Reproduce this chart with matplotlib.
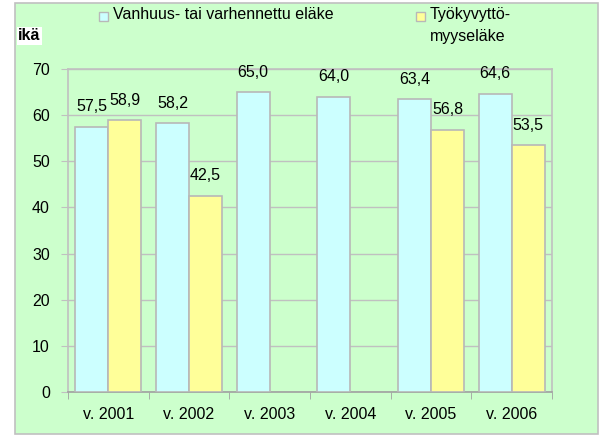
import numpy as np
import matplotlib
matplotlib.use("Agg")
import matplotlib.pyplot as plt
from matplotlib.patches import Rectangle

# data
years = ["v. 2001", "v. 2002", "v. 2003", "v. 2004", "v. 2005", "v. 2006"]
vanhuus = [57.5, 58.2, 65.0, 64.0, 63.4, 64.6]
tyokyvytto = [58.9, 42.5, None, None, 56.8, 53.5]
series_names = ["Vanhuus- tai varhennettu eläke", "Työkyvyttö-\nmyyseläke"]
y_ticks = [0, 10, 20, 30, 40, 50, 60, 70]

GREEN = "#CCFFCC"
BLUE = "#CCFFFF"
YELLOW = "#FFFF99"
GREY = "#B8B8B8"
FS = 11.5

plt.rcParams["font.family"] = ["Liberation Sans", "DejaVu Sans"]
plt.rcParams["font.size"] = FS

W, H = 602, 436
fig = plt.figure(figsize=(W / 100, H / 100), dpi=100, facecolor="white")

# green chart panel
fig.patches.append(Rectangle((15 / W, 1 - 434 / H), (598 - 15) / W, (434 - 3) / H,
                             transform=fig.transFigure, facecolor=GREEN,
                             edgecolor="#C0C0C0", linewidth=1.2, zorder=0))

ax = fig.add_axes([68 / W, 1 - 392 / H, (552 - 68) / W, (392 - 69) / H])
ax.set_zorder(2)
ax.set_facecolor(GREEN)

x = np.arange(len(years))
bw = 0.41
v2 = np.array([np.nan if v is None else v for v in tyokyvytto], dtype=float)

ax.bar(x - bw / 2, vanhuus, bw, color=BLUE, edgecolor=GREY, linewidth=1.2, zorder=3)
ax.bar(x + bw / 2, v2, bw, color=YELLOW, edgecolor=GREY, linewidth=1.2, zorder=3)

for xi, v in zip(x, vanhuus):
    ax.annotate(f"{v:.1f}".replace(".", ","), (xi - bw / 2, v), xytext=(0, 9),
                textcoords="offset points", ha="center", va="bottom", fontsize=FS)
for xi, v in zip(x, tyokyvytto):
    if v is None:
        continue
    ax.annotate(f"{v:.1f}".replace(".", ","), (xi + bw / 2, v), xytext=(0, 9),
                textcoords="offset points", ha="center", va="bottom", fontsize=FS)

ax.set_xlim(-0.5, len(years) - 0.5)
ax.set_ylim(0, 70)
ax.set_yticks(y_ticks)
ax.yaxis.grid(True, color="#C0C0C0", linewidth=1.0, zorder=0)
ax.set_axisbelow(True)

ax.set_xticks(x)
ax.set_xticklabels(years)
ax.set_xticks(np.arange(-0.5, len(years), 1.0), minor=True)
ax.tick_params(axis="x", which="major", length=0, pad=11)
ax.tick_params(axis="x", which="minor", length=5, color="#A0A0A0", direction="out")
ax.tick_params(axis="y", length=5, color="#C0C0C0", direction="out", pad=8)

for side, sp in ax.spines.items():
    sp.set_color("#C0C0C0")
    sp.set_linewidth(1.2)
ax.spines["bottom"].set_color("#A0A0A0")

# y-axis title
fig.text(18 / W, 1 - 36 / H, "ikä", ha="left", va="center", fontsize=FS,
         fontweight="bold", bbox=dict(facecolor="white", edgecolor="none", pad=1), zorder=3)

# legend drawn by hand
for (mx, color, name) in [(104, BLUE, series_names[0]), (421, YELLOW, series_names[1])]:
    fig.patches.append(Rectangle((mx / W - 5 / W, 1 - 21 / H), 9 / W, 9 / H,
                                 transform=fig.transFigure, facecolor=color,
                                 edgecolor=GREY, linewidth=1.0, zorder=3))
    fig.text((mx + 9) / W, 1 - 7 / H, name, ha="left", va="top",
             fontsize=FS, linespacing=1.55, zorder=3)

fig.savefig("out.png", dpi=100, facecolor="white")
